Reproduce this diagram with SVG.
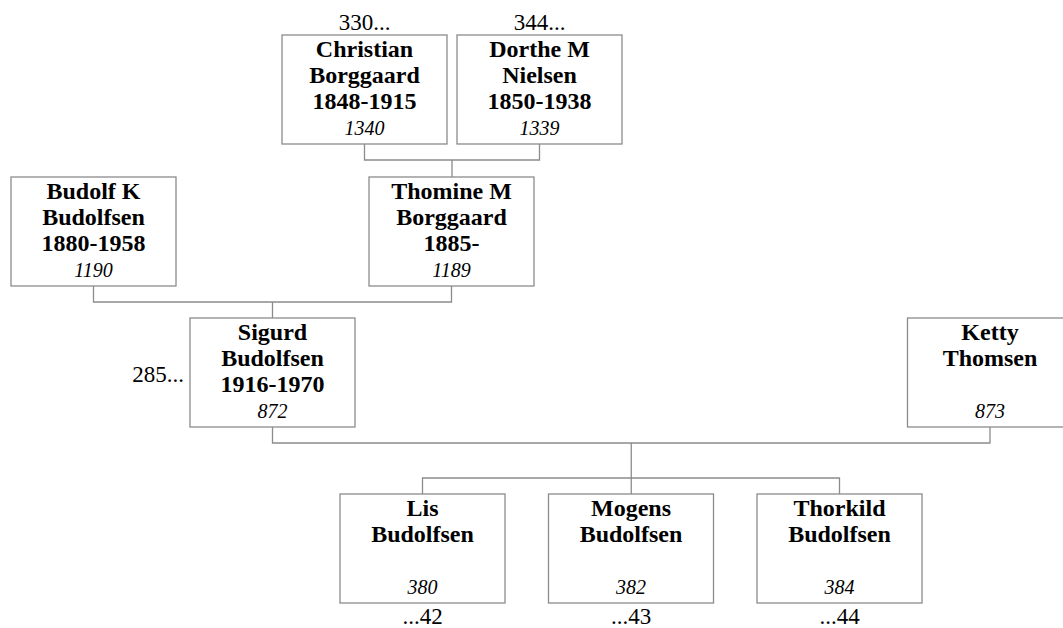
<svg xmlns="http://www.w3.org/2000/svg" width="1063" height="628" viewBox="0 0 1063 628">
<style>
.box{fill:#fff;stroke:#8c8c8c;stroke-width:1.3}
.n{font-family:"Liberation Serif","Times New Roman",serif;font-weight:bold;font-size:24px;text-anchor:middle;fill:#000}
.id{font-family:"Liberation Serif","Times New Roman",serif;font-style:italic;font-size:20px;text-anchor:middle;fill:#000}
.ref{font-family:"Liberation Serif","Times New Roman",serif;font-size:23px;fill:#000}
.c{fill:none;stroke:#8c8c8c;stroke-width:1.3}
</style>
<rect width="1063" height="628" fill="#fff"/>
<g id="connectors" class="c">
<path d="M364.5 144V160H539.5V144M452 160V177"/>
<path d="M93.5 286V302H451.5V286M272.5 302V318"/>
<path d="M272.5 427V443H990V427M631.25 443V494"/>
<path d="M422.5 494V478H839.5V494"/>
</g>
<g id="christian">
<rect class="box" x="282" y="35" width="165" height="109"/>
<text class="n" x="364.5" y="57">Christian</text>
<text class="n" x="364.5" y="83">Borggaard</text>
<text class="n" x="364.5" y="109">1848-1915</text>
<text class="id" x="364.5" y="135">1340</text>
<text class="ref" x="364.5" y="30" text-anchor="middle">330...</text>
</g>
<g id="dorthe">
<rect class="box" x="457" y="35" width="165" height="109"/>
<text class="n" x="539.5" y="57">Dorthe M</text>
<text class="n" x="539.5" y="83">Nielsen</text>
<text class="n" x="539.5" y="109">1850-1938</text>
<text class="id" x="539.5" y="135">1339</text>
<text class="ref" x="539.5" y="30" text-anchor="middle">344...</text>
</g>
<g id="budolf">
<rect class="box" x="11" y="177" width="165" height="109"/>
<text class="n" x="93.5" y="199">Budolf K</text>
<text class="n" x="93.5" y="225">Budolfsen</text>
<text class="n" x="93.5" y="251">1880-1958</text>
<text class="id" x="93.5" y="277">1190</text>
</g>
<g id="thomine">
<rect class="box" x="369" y="177" width="165" height="109"/>
<text class="n" x="451.5" y="199">Thomine M</text>
<text class="n" x="451.5" y="225">Borggaard</text>
<text class="n" x="451.5" y="251">1885-</text>
<text class="id" x="451.5" y="277">1189</text>
</g>
<g id="sigurd">
<rect class="box" x="190" y="318" width="165" height="109"/>
<text class="n" x="272.5" y="340">Sigurd</text>
<text class="n" x="272.5" y="366">Budolfsen</text>
<text class="n" x="272.5" y="392">1916-1970</text>
<text class="id" x="272.5" y="418">872</text>
<text class="ref" x="184" y="382" text-anchor="end">285...</text>
</g>
<g id="ketty">
<rect class="box" x="907.5" y="318" width="165" height="109"/>
<text class="n" x="990" y="340">Ketty</text>
<text class="n" x="990" y="366">Thomsen</text>
<text class="id" x="990" y="418">873</text>
</g>
<g id="lis">
<rect class="box" x="340" y="494" width="165" height="109"/>
<text class="n" x="422.5" y="516">Lis</text>
<text class="n" x="422.5" y="542">Budolfsen</text>
<text class="id" x="422.5" y="594">380</text>
<text class="ref" x="422.5" y="624" text-anchor="middle">...42</text>
</g>
<g id="mogens">
<rect class="box" x="548.5" y="494" width="165" height="109"/>
<text class="n" x="631" y="516">Mogens</text>
<text class="n" x="631" y="542">Budolfsen</text>
<text class="id" x="631" y="594">382</text>
<text class="ref" x="631" y="624" text-anchor="middle">...43</text>
</g>
<g id="thorkild">
<rect class="box" x="757" y="494" width="165" height="109"/>
<text class="n" x="839.5" y="516">Thorkild</text>
<text class="n" x="839.5" y="542">Budolfsen</text>
<text class="id" x="839.5" y="594">384</text>
<text class="ref" x="839.5" y="624" text-anchor="middle">...44</text>
</g>
</svg>
